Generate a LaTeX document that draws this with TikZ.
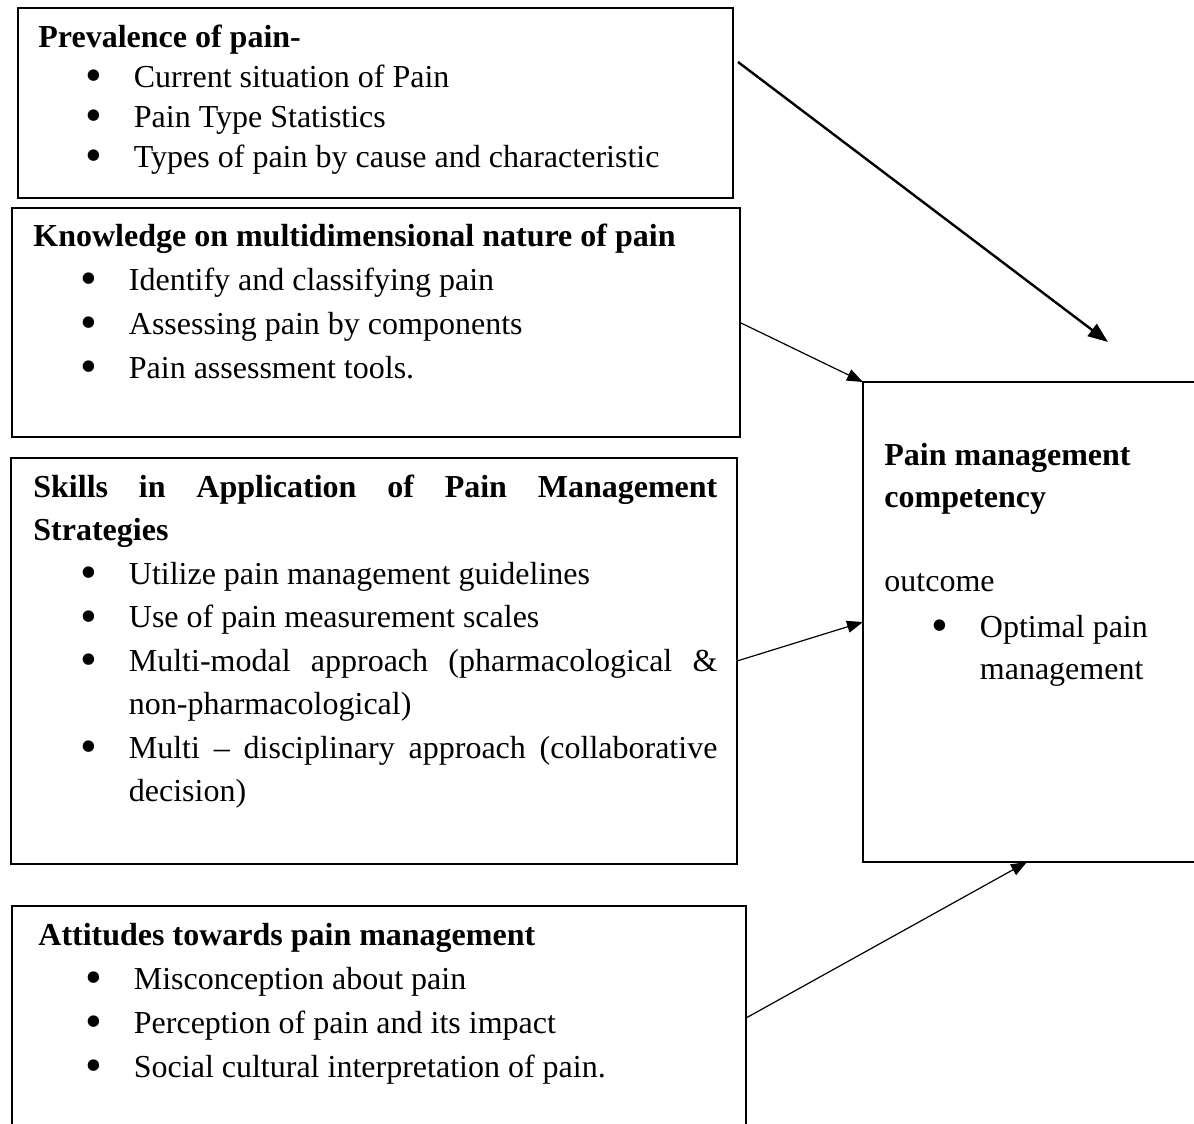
\documentclass[tikz,border=0pt]{standalone}
\usepackage{fontspec}
\setmainfont{Liberation Serif}
\usepackage{tikz}
\usetikzlibrary{arrows.meta,positioning,fit,calc}
\setlength{\parindent}{0pt}
\setlength{\parskip}{0pt}
\hbadness=10000
\hyphenpenalty=10000
\exhyphenpenalty=10000
\tikzset{
    quadro/.style={
        rectangle,
        draw,
        line width=0.75pt,
        inner sep=0pt,
        outer sep=0pt
    },
    texto/.style={
        anchor=north west,
        inner sep=0pt,
        align=justify,
        text width=342pt,
        font=\fontsize{16}{21.75}\selectfont
    },
    seta/.style={-{Triangle[length=8pt,width=6pt]}, line width=0.6pt},
    setaForte/.style={-{Triangle[length=10pt,width=7.5pt]}, line width=1.2pt}
}
\newcommand{\topo}{\rule{0pt}{14pt}}
\newcommand{\marcador}{\par\leftskip=47.75pt\noindent\hskip-47.75pt\makebox[47.75pt][l]{\hskip23.3pt\smash{\raisebox{-2.2pt}{\fontsize{24}{24}\selectfont\textbullet}}}\ignorespaces}

\begin{document}
\begin{tikzpicture}[x=0.5pt, y=-0.5pt]
    \useasboundingbox (0,0) rectangle (1194,1124);
    \clip (0,0) rectangle (1194,1124);

    \node[quadro, fit={(18,8) (733,198)}] (prevalencia) {};
    \node[quadro, fit={(12,208) (740,437)}] (conhecimento) {};
    \node[quadro, fit={(11,458) (737,864)}] (habilidades) {};
    \node[quadro, fit={(12,906) (746,1130)}] (atitudes) {};
    \node[quadro, fit={(863,382) (1230,862)}] (competencia) {};

    \node[texto, font=\fontsize{16}{20}\selectfont] (prevalenciaTxt) at (38,19)
        {\topo\textbf{Prevalence of pain-}\marcador Current situation of Pain\marcador Pain Type Statistics\marcador Types of pain by cause and characteristic\par};
    \node[texto, font=\fontsize{16}{22}\selectfont] (conhecimentoTxt) at (33,218)
        {\topo\textbf{Knowledge on multidimensional nature of pain}\marcador Identify and classifying pain\marcador Assessing pain by components\marcador Pain assessment tools.\par};
    \node[texto] (habilidadesTxt) at (33,469)
        {\topo\textbf{Skills in Application of Pain Management\linebreak Strategies}\marcador Utilize pain management guidelines\marcador Use of pain measurement scales\marcador Multi-modal approach (pharmacological \&\linebreak non-pharmacological)\marcador Multi \textendash{} disciplinary approach (collaborative\linebreak decision)\par};
    \node[texto, font=\fontsize{16}{22}\selectfont] (atitudesTxt) at (38,917)
        {\topo\textbf{Attitudes towards pain management}\marcador Misconception about pain\marcador Perception of pain and its impact\marcador Social cultural interpretation of pain.\par};
    \node[texto, text width=150pt, font=\fontsize{16}{21}\selectfont] (competenciaTxt) at (884,437)
        {\topo\textbf{Pain management}\par\textbf{competency}\par\mbox{}\par outcome\par\vspace{2pt}\marcador Optimal pain\\management\par};

    \coordinate (inicioSeta) at ($(prevalencia.north east)+(5,54)$);
    \coordinate (fimSeta) at ($(competencia.north west)+(245,-40)$);
    \coordinate (entradaBaixo) at ($(competencia.south west)+(164,0)$);

    \draw[setaForte] (inicioSeta) -- (fimSeta);
    \draw[seta] (conhecimento.east) -- (competencia.north west);
    \draw[seta] (habilidades.east) -- (competencia.west);
    \draw[seta] (atitudes.east) -- (entradaBaixo);
\end{tikzpicture}
\end{document}
